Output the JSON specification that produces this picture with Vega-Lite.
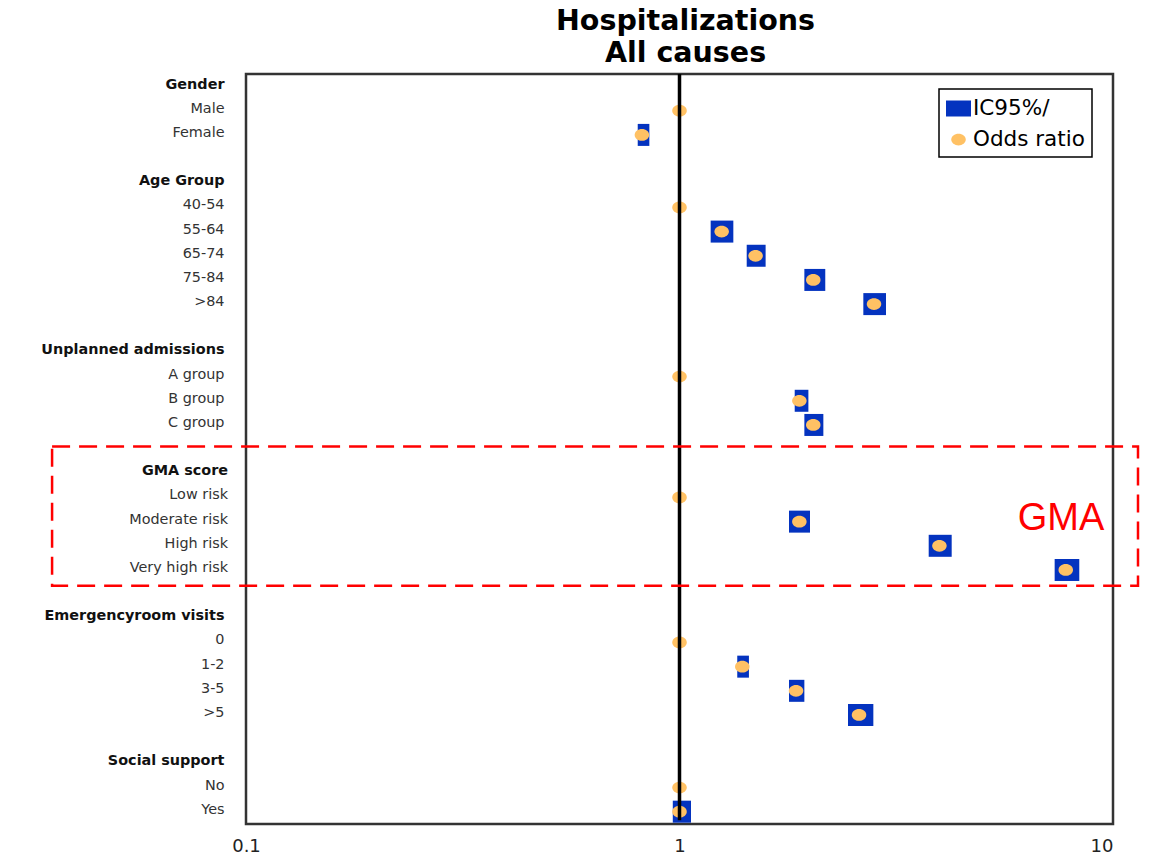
{
  "$schema": "https://vega.github.io/schema/vega-lite/v6.json",
  "width": 867,
  "height": 750,
  "autosize": "none",
  "padding": {"left": 246, "top": 74, "right": 39, "bottom": 41},
  "background": "white",
  "title": {
    "text": ["Hospitalizations", "All causes"],
    "fontSize": 28.5,
    "font": "DejaVu Sans",
    "fontWeight": "bold",
    "color": "black",
    "anchor": "middle",
    "frame": "group",
    "baseline": "alphabetic",
    "lineHeight": 31.6,
    "offset": 10.7,
    "dx": 6,
    "dy": 29
  },
  "config": {
    "view": {"stroke": "#333333", "strokeWidth": 2.5},
    "legend": {"strokeWidth": 1.5},
    "axis": {"labelOverlap": false}
  },
  "datasets": {
    "rows": [
      {"row": 0, "label": "Gender", "or": null, "lo": null, "hi": null},
      {"row": 1, "label": "Male", "or": 1, "lo": null, "hi": null},
      {"row": 2, "label": "Female", "or": 0.819, "lo": 0.801, "hi": 0.852},
      {"row": 4, "label": "Age Group", "or": null, "lo": null, "hi": null},
      {"row": 5, "label": "40-54", "or": 1, "lo": null, "hi": null},
      {"row": 6, "label": "55-64", "or": 1.251, "lo": 1.18, "hi": 1.331},
      {"row": 7, "label": "65-74", "or": 1.498, "lo": 1.429, "hi": 1.58},
      {"row": 8, "label": "75-84", "or": 2.035, "lo": 1.941, "hi": 2.169},
      {"row": 9, "label": ">84", "or": 2.81, "lo": 2.655, "hi": 2.995},
      {"row": 11, "label": "Unplanned admissions", "or": null, "lo": null, "hi": null},
      {"row": 12, "label": "A group", "or": 1, "lo": null, "hi": null},
      {"row": 13, "label": "B group", "or": 1.89, "lo": 1.844, "hi": 1.983},
      {"row": 14, "label": "C group", "or": 2.035, "lo": 1.941, "hi": 2.147},
      {"row": 16, "label": "GMA score", "or": null, "lo": null, "hi": null},
      {"row": 17, "label": "Low risk", "or": 1, "lo": null, "hi": null},
      {"row": 18, "label": "Moderate risk", "or": 1.89, "lo": 1.789, "hi": 2.0},
      {"row": 19, "label": "High risk", "or": 3.977, "lo": 3.757, "hi": 4.245},
      {"row": 20, "label": "Very high risk", "or": 7.78, "lo": 7.335, "hi": 8.36},
      {"row": 22, "label": "Emergencyroom visits", "or": null, "lo": null, "hi": null},
      {"row": 23, "label": "0", "or": 1, "lo": null, "hi": null},
      {"row": 24, "label": "1-2", "or": 1.396, "lo": 1.359, "hi": 1.446},
      {"row": 25, "label": "3-5", "or": 1.857, "lo": 1.789, "hi": 1.941},
      {"row": 26, "label": ">5", "or": 2.595, "lo": 2.447, "hi": 2.8},
      {"row": 28, "label": "Social support", "or": null, "lo": null, "hi": null},
      {"row": 29, "label": "No", "or": 1, "lo": null, "hi": null},
      {"row": 30, "label": "Yes", "or": 1.0, "lo": 0.965, "hi": 1.063}
    ]
  },
  "encoding": {
    "y": {
      "field": "row", "type": "quantitative", "title": null,
      "scale": {"domain": [-0.52, 30.51], "reverse": true, "nice": false, "zero": false, "padding": 0},
      "axis": {
        "values": [0, 1, 2, 4, 5, 6, 7, 8, 9, 11, 12, 13, 14, 16, 17, 18, 19, 20, 22, 23, 24, 25, 26, 28, 29, 30],
        "labelExpr": "['Gender','Male','Female','','Age Group','40-54','55-64','65-74','75-84','>84','','Unplanned admissions','A group','B group','C group','','GMA score','Low risk','Moderate risk','High risk','Very high risk','','Emergencyroom visits','0','1-2','3-5','>5','','Social support','No','Yes'][datum.value]",
        "domain": false, "ticks": false, "grid": false,
        "labelFont": "DejaVu Sans", "labelFontSize": 14.4, "labelLimit": 400,
        "labelOffset": -2.5,
        "labelPadding": {"condition": {"test": "datum.value >= 16 && datum.value <= 20", "value": 18.5}, "value": 22},
        "labelFontWeight": {"condition": {"test": "indexof([0,4,11,16,22,28], datum.value) >= 0", "value": "bold"}, "value": "normal"},
        "labelColor": {"condition": {"test": "indexof([0,4,11,16,22,28], datum.value) >= 0", "value": "#111111"}, "value": "#333333"},
        "labelOverlap": false, "labelBound": false, "labelFlush": false, "labelSeparation": 0
      }
    }
  },
  "layer": [
    {
      "data": {"name": "rows"},
      "transform": [{"filter": {"field": "lo", "valid": true}}],
      "mark": {"type": "bar", "size": 22},
      "encoding": {
        "x": {
          "field": "lo", "type": "quantitative", "title": null,
          "scale": {"type": "log", "domain": [0.1, 10], "nice": false, "padding": 0},
          "axis": {
            "values": [0.1, 1, 10],
            "labelExpr": "format(datum.value, '~g')",
            "domain": false, "ticks": false, "grid": false,
            "labelFont": "DejaVu Sans", "labelFontSize": 18, "labelColor": "#222222",
            "labelPadding": 13, "labelFlush": false, "labelOverlap": false, "labelBound": false,
            "labelAlign": {"condition": {"test": "datum.value >= 10", "value": "right"}, "value": "center"}
          }
        },
        "x2": {"field": "hi"},
        "color": {
          "datum": "IC95%/", "type": "nominal",
          "scale": {"domain": ["IC95%/", "Odds ratio"], "range": ["#0433BF", "#FFC164"]},
          "legend": {
            "title": null, "orient": "none", "legendX": 693, "legendY": 15,
            "labelFont": "DejaVu Sans", "labelFontSize": 21.5, "labelColor": "black",
            "symbolSize": 625, "symbolStrokeWidth": 0, "symbolOpacity": 1,
            "padding": 7, "strokeColor": "black", "fillColor": "white",
            "rowPadding": 8, "labelOffset": 2
          }
        }
      }
    },
    {
      "data": {"name": "rows"},
      "transform": [{"filter": {"field": "or", "valid": true}}],
      "mark": {"type": "point", "filled": true, "size": 625, "opacity": 1, "strokeWidth": 0},
      "encoding": {
        "x": {"field": "or", "type": "quantitative", "title": null, "scale": {"type": "log", "domain": [0.1, 10], "nice": false, "padding": 0}},
        "color": {
          "datum": "Odds ratio", "type": "nominal",
          "scale": {"domain": ["IC95%/", "Odds ratio"], "range": ["#0433BF", "#FFC164"]},
          "legend": {
            "title": null, "orient": "none", "legendX": 693, "legendY": 15,
            "labelFont": "DejaVu Sans", "labelFontSize": 21.5, "labelColor": "black",
            "symbolSize": 625, "symbolStrokeWidth": 0, "symbolOpacity": 1,
            "padding": 7, "strokeColor": "black", "fillColor": "white",
            "rowPadding": 8, "labelOffset": 2
          }
        },
        "shape": {
          "datum": "Odds ratio", "type": "nominal",
          "scale": {"domain": ["IC95%/", "Odds ratio"], "range": ["M-1,-0.64H1V0.64H-1Z", "M0.58,0A0.58,0.47,0,1,1,-0.58,0A0.58,0.47,0,1,1,0.58,0Z"]},
          "legend": {
            "title": null, "orient": "none", "legendX": 693, "legendY": 15,
            "labelFont": "DejaVu Sans", "labelFontSize": 21.5, "labelColor": "black",
            "symbolSize": 625, "symbolStrokeWidth": 0, "symbolOpacity": 1,
            "padding": 7, "strokeColor": "black", "fillColor": "white",
            "rowPadding": 8, "labelOffset": 2
          }
        }
      }
    },
    {
      "data": {"values": [{"ref": 1, "row": -0.52, "row2": 30.35}]},
      "mark": {"type": "rule", "color": "black", "strokeWidth": 3.5},
      "encoding": {
        "x": {"field": "ref", "type": "quantitative", "title": null, "scale": {"type": "log", "domain": [0.1, 10], "nice": false, "padding": 0}},
        "y2": {"field": "row2"}
      }
    },
    {
      "data": {"values": [{"x1": 0.0357, "x2": 11.42, "row": 14.89, "row2": 20.65}]},
      "mark": {"type": "rect", "fill": "transparent", "stroke": "#FF0000", "strokeWidth": 2.5, "strokeDash": [18, 9], "clip": false},
      "encoding": {
        "x": {"field": "x1", "type": "quantitative", "title": null, "scale": {"type": "log", "domain": [0.1, 10], "nice": false, "padding": 0}},
        "x2": {"field": "x2"},
        "y2": {"field": "row2"}
      }
    },
    {
      "data": {"values": [{"note": "GMA", "xv": 7.59, "row": 18.35}]},
      "mark": {"type": "text", "font": "Liberation Sans", "fontSize": 38, "color": "#FF0000", "align": "center", "baseline": "alphabetic"},
      "encoding": {
        "x": {"field": "xv", "type": "quantitative", "title": null, "scale": {"type": "log", "domain": [0.1, 10], "nice": false, "padding": 0}},
        "text": {"field": "note"}
      }
    }
  ]
}
